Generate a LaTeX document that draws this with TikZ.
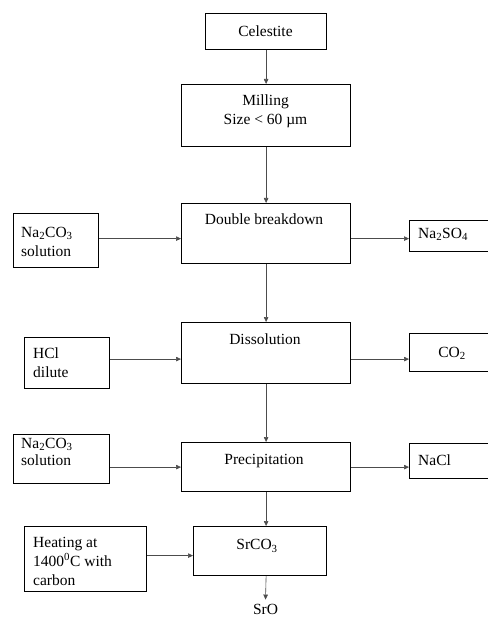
\documentclass[tikz,border=0pt]{standalone}
\usepackage{fontspec}
\setmainfont{Liberation Serif}
\usetikzlibrary{arrows.meta}
\begin{document}
\begin{tikzpicture}[x=1pt,y=-1pt,
  box/.style={draw=black, line width=1.2pt, inner sep=0pt, anchor=north west},
  txt/.style={inner sep=0pt, font=\fontsize{15.5}{19}\selectfont},
  arr/.style={draw=black!70, line width=0.6pt, -{Triangle[length=5pt,width=4.5pt]}}]
\useasboundingbox (0,0) rectangle (487,617);
\fill[white] (0,0) rectangle (487,617);

% boxes
\node[box, minimum width=121pt, minimum height=36pt] (cel) at (205,13) {};
\node[box, minimum width=169pt, minimum height=62pt] (mill) at (181,84) {};
\node[box, minimum width=169pt, minimum height=60pt] (db) at (181,203) {};
\node[box, minimum width=169pt, minimum height=61pt] (dis) at (181,322) {};
\node[box, minimum width=169pt, minimum height=49pt] (pre) at (181,442) {};
\node[box, minimum width=85pt, minimum height=54pt] (nac1) at (13,213) {};
\node[box, minimum width=85pt, minimum height=51pt] (hcl) at (24,337) {};
\node[box, minimum width=96pt, minimum height=49pt] (nac2) at (13,434) {};
\node[box, minimum width=122pt, minimum height=65pt] (heat) at (24,526) {};
\node[box, minimum width=133pt, minimum height=49pt] (sr) at (193,526) {};
\node[box, minimum width=86pt, minimum height=31pt] (s1) at (409,220) {};
\node[box, minimum width=86pt, minimum height=38pt] (co2) at (409,333) {};
\node[box, minimum width=86pt, minimum height=35pt] (nacl) at (409,443) {};

% texts
\node[txt] (tcel) at (265.5,31) {Celestite};
\node[txt, align=center] (tmill) at (265.5,111) {Milling\\Size < 60 µm};
\node[txt] (tdb) at (264,219) {Double breakdown};
\node[txt] (tdis) at (265,339) {Dissolution};
\node[txt] (tpre) at (264,461) {Precipitation};
\node[txt, anchor=west, align=left] (tnac1) at (21,242) {Na\textsubscript{2}CO\textsubscript{3}\\solution};
\node[txt, anchor=west, align=left] (thcl) at (33,363) {HCl\\dilute};
\node[txt, anchor=west, align=left, font=\fontsize{15.5}{17}\selectfont] (tnac2) at (21,452) {Na\textsubscript{2}CO\textsubscript{3}\\solution};
\node[txt, anchor=west, align=left] (theat) at (33,561) {Heating at\\1400\textsuperscript{0}C with\\carbon};
\node[txt, anchor=west] (ts1) at (418,234) {Na\textsubscript{2}SO\textsubscript{4}};
\node[txt] (tco2) at (452,353) {CO\textsubscript{2}};
\node[txt, anchor=west] (tnacl) at (418,460) {NaCl};
\node[txt] (tsr) at (257,546) {SrCO\textsubscript{3}};
\node[txt, anchor=base] (sro) at (265.5,614) {SrO};

% vertical arrows
\draw[arr] (cel.south) -- (mill.north);
\draw[arr] (mill.south) -- (db.north);
\draw[arr] (db.south) -- (dis.north);
\draw[arr] (dis.south) -- (pre.north);
\draw[arr] (pre.south) -- (pre.south |- sr.north);
\draw[arr] (pre.south |- sr.south) -- ([yshift=4pt]sro.north);

% horizontal arrows
\coordinate (r1) at ([yshift=2pt]nac1.east);
\draw[arr] (r1) -- (r1 -| db.west);
\draw[arr] (db.east |- r1) -- (s1.west |- r1);
\coordinate (r2) at ([yshift=4pt]hcl.east);
\draw[arr] (r2) -- (r2 -| dis.west);
\draw[arr] (dis.east |- r2) -- (co2.west |- r2);
\draw[arr] (nac2.east |- pre.west) -- (pre.west);
\draw[arr] (pre.east) -- (pre.east -| nacl.west);
\coordinate (r4) at ([yshift=3.5pt]heat.east);
\draw[arr] (r4) -- (r4 -| sr.west);
\end{tikzpicture}
\end{document}
